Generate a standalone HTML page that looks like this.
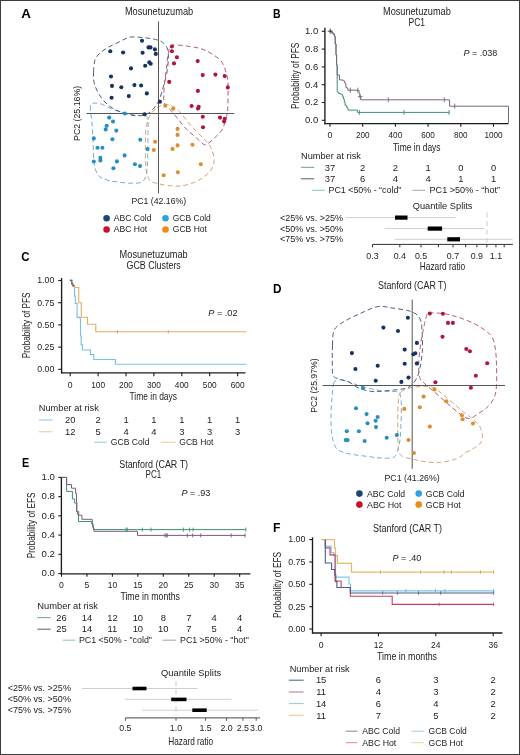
<!DOCTYPE html>
<html><head><meta charset="utf-8"><style>
html,body{margin:0;padding:0;background:#fff;}
svg{display:block;will-change:transform;}
text{font-family:"Liberation Sans", sans-serif;}
</style></head><body>
<svg width="520" height="755" viewBox="0 0 520 755" font-family='"Liberation Sans", sans-serif'>
<rect x="0.5" y="0.5" width="519" height="754" fill="#fff" stroke="#3c3c3c" stroke-width="1"/>
<text x="21.30" y="18.07" font-size="13" fill="#000" font-weight="bold" textLength="9.70" lengthAdjust="spacingAndGlyphs">A</text>
<text x="124.90" y="14.74" font-size="10" fill="#222" textLength="68.30" lengthAdjust="spacingAndGlyphs">Mosunetuzumab</text>
<path d="M90.50,110.00C90.27,106.58 90.05,105.67 90.80,104.50C91.55,103.33 93.30,103.08 95.00,103.00C96.70,102.92 98.83,103.30 101.00,104.00C103.17,104.70 105.50,106.12 108.00,107.20C110.50,108.28 113.00,109.45 116.00,110.50C119.00,111.55 122.33,112.72 126.00,113.50C129.67,114.28 134.83,114.78 138.00,115.20C141.17,115.62 143.33,115.37 145.00,116.00C146.67,116.63 147.50,116.67 148.00,119.00C148.50,121.33 148.03,124.83 148.00,130.00C147.97,135.17 147.93,143.67 147.80,150.00C147.67,156.33 147.58,163.50 147.20,168.00C146.82,172.50 146.45,174.62 145.50,177.00C144.55,179.38 143.92,181.27 141.50,182.30C139.08,183.33 134.92,183.25 131.00,183.20C127.08,183.15 121.83,182.48 118.00,182.00C114.17,181.52 111.00,181.13 108.00,180.30C105.00,179.47 102.00,178.55 100.00,177.00C98.00,175.45 97.00,173.50 96.00,171.00C95.00,168.50 94.47,166.33 94.00,162.00C93.53,157.67 93.50,151.17 93.20,145.00C92.90,138.83 92.65,130.83 92.20,125.00C91.75,119.17 90.73,113.42 90.50,110.00Z" stroke="#78aad0" stroke-width="1" fill="none" stroke-dasharray="4.8 3.0" stroke-linecap="butt"/>
<path d="M157.00,108.00C158.92,106.63 161.50,104.80 163.50,104.30C165.50,103.80 166.83,104.30 169.00,105.00C171.17,105.70 174.00,106.50 176.50,108.50C179.00,110.50 181.58,114.08 184.00,117.00C186.42,119.92 188.33,123.00 191.00,126.00C193.67,129.00 197.25,132.20 200.00,135.00C202.75,137.80 205.58,140.47 207.50,142.80C209.42,145.13 210.45,146.63 211.50,149.00C212.55,151.37 213.47,154.33 213.80,157.00C214.13,159.67 214.13,162.58 213.50,165.00C212.87,167.42 211.75,169.42 210.00,171.50C208.25,173.58 205.57,175.70 203.00,177.50C200.43,179.30 198.27,180.88 194.60,182.30C190.93,183.72 185.43,185.47 181.00,186.00C176.57,186.53 171.83,185.90 168.00,185.50C164.17,185.10 161.00,184.43 158.00,183.60C155.00,182.77 151.92,182.43 150.00,180.50C148.08,178.57 147.23,175.42 146.50,172.00C145.77,168.58 145.78,165.17 145.60,160.00C145.42,154.83 145.33,146.33 145.40,141.00C145.47,135.67 145.48,131.75 146.00,128.00C146.52,124.25 147.50,121.08 148.50,118.50C149.50,115.92 150.58,114.25 152.00,112.50C153.42,110.75 155.08,109.37 157.00,108.00Z" stroke="#d4a470" stroke-width="1" fill="none" stroke-dasharray="4.8 3.0" stroke-linecap="butt"/>
<path d="M93.60,72.00C93.77,68.33 93.93,63.17 95.00,60.00C96.07,56.83 97.83,55.08 100.00,53.00C102.17,50.92 105.00,49.25 108.00,47.50C111.00,45.75 114.33,44.22 118.00,42.50C121.67,40.78 125.50,37.98 130.00,37.20C134.50,36.42 140.42,37.33 145.00,37.80C149.58,38.27 154.33,39.05 157.50,40.00C160.67,40.95 162.28,41.83 164.00,43.50C165.72,45.17 167.08,47.25 167.80,50.00C168.52,52.75 168.47,56.17 168.30,60.00C168.13,63.83 167.60,68.67 166.80,73.00C166.00,77.33 164.72,81.67 163.50,86.00C162.28,90.33 161.08,95.33 159.50,99.00C157.92,102.67 156.08,105.50 154.00,108.00C151.92,110.50 150.00,112.70 147.00,114.00C144.00,115.30 139.83,115.97 136.00,115.80C132.17,115.63 127.83,114.22 124.00,113.00C120.17,111.78 116.33,110.50 113.00,108.50C109.67,106.50 106.58,103.83 104.00,101.00C101.42,98.17 99.17,94.67 97.50,91.50C95.83,88.33 94.65,85.25 94.00,82.00C93.35,78.75 93.43,75.67 93.60,72.00Z" stroke="#4c6080" stroke-width="1" fill="none" stroke-dasharray="4.8 3.0" stroke-linecap="butt"/>
<path d="M170.50,46.20C171.83,44.53 172.75,44.95 176.00,45.00C179.25,45.05 185.67,45.83 190.00,46.50C194.33,47.17 198.33,47.75 202.00,49.00C205.67,50.25 208.83,52.00 212.00,54.00C215.17,56.00 218.67,58.00 221.00,61.00C223.33,64.00 224.85,68.50 226.00,72.00C227.15,75.50 227.57,77.67 227.90,82.00C228.23,86.33 228.05,93.17 228.00,98.00C227.95,102.83 227.97,107.50 227.60,111.00C227.23,114.50 226.65,116.00 225.80,119.00C224.95,122.00 224.13,126.08 222.50,129.00C220.87,131.92 218.42,134.08 216.00,136.50C213.58,138.92 210.00,142.17 208.00,143.50C206.00,144.83 206.00,145.50 204.00,144.50C202.00,143.50 199.00,140.12 196.00,137.50C193.00,134.88 189.00,131.88 186.00,128.80C183.00,125.72 180.53,122.07 178.00,119.00C175.47,115.93 173.05,112.90 170.80,110.40C168.55,107.90 165.67,106.57 164.50,104.00C163.33,101.43 163.77,98.67 163.80,95.00C163.83,91.33 164.25,86.50 164.70,82.00C165.15,77.50 165.95,72.50 166.50,68.00C167.05,63.50 167.33,58.63 168.00,55.00C168.67,51.37 169.17,47.87 170.50,46.20Z" stroke="#b85c78" stroke-width="1" fill="none" stroke-dasharray="4.8 3.0" stroke-linecap="butt"/>
<line x1="158.50" y1="21.50" x2="158.50" y2="193.20" stroke="#555" stroke-width="1"/>
<line x1="86.50" y1="113.50" x2="234.20" y2="113.50" stroke="#555" stroke-width="1"/>
<circle cx="142.00" cy="40.80" r="2.05" fill="#16325e"/>
<circle cx="110.30" cy="51.20" r="2.05" fill="#16325e"/>
<circle cx="123.10" cy="52.50" r="2.05" fill="#16325e"/>
<circle cx="142.60" cy="52.80" r="2.05" fill="#16325e"/>
<circle cx="148.50" cy="47.40" r="2.05" fill="#16325e"/>
<circle cx="150.50" cy="47.40" r="2.05" fill="#16325e"/>
<circle cx="154.90" cy="49.40" r="2.05" fill="#16325e"/>
<circle cx="155.80" cy="53.90" r="2.05" fill="#16325e"/>
<circle cx="149.30" cy="62.40" r="2.05" fill="#16325e"/>
<circle cx="150.70" cy="63.70" r="2.05" fill="#16325e"/>
<circle cx="145.20" cy="65.80" r="2.05" fill="#16325e"/>
<circle cx="131.00" cy="68.40" r="2.05" fill="#16325e"/>
<circle cx="111.00" cy="76.50" r="2.05" fill="#16325e"/>
<circle cx="112.00" cy="85.90" r="2.05" fill="#16325e"/>
<circle cx="121.30" cy="87.20" r="2.05" fill="#16325e"/>
<circle cx="134.40" cy="85.10" r="2.05" fill="#16325e"/>
<circle cx="141.10" cy="85.50" r="2.05" fill="#16325e"/>
<circle cx="146.80" cy="93.40" r="2.05" fill="#16325e"/>
<circle cx="111.60" cy="97.80" r="2.05" fill="#16325e"/>
<circle cx="128.80" cy="96.10" r="2.05" fill="#16325e"/>
<circle cx="160.00" cy="101.80" r="2.05" fill="#16325e"/>
<circle cx="144.60" cy="114.20" r="2.05" fill="#16325e"/>
<circle cx="171.90" cy="46.50" r="2.05" fill="#b0153a"/>
<circle cx="171.90" cy="51.30" r="2.05" fill="#b0153a"/>
<circle cx="176.90" cy="57.30" r="2.05" fill="#b0153a"/>
<circle cx="174.00" cy="63.40" r="2.05" fill="#b0153a"/>
<circle cx="197.70" cy="61.10" r="2.05" fill="#b0153a"/>
<circle cx="202.70" cy="75.10" r="2.05" fill="#b0153a"/>
<circle cx="215.40" cy="74.60" r="2.05" fill="#b0153a"/>
<circle cx="224.70" cy="76.10" r="2.05" fill="#b0153a"/>
<circle cx="227.80" cy="87.40" r="2.05" fill="#b0153a"/>
<circle cx="169.20" cy="81.90" r="2.05" fill="#b0153a"/>
<circle cx="197.90" cy="90.90" r="2.05" fill="#b0153a"/>
<circle cx="191.60" cy="106.00" r="2.05" fill="#b0153a"/>
<circle cx="198.70" cy="106.80" r="2.05" fill="#b0153a"/>
<circle cx="198.00" cy="108.50" r="2.05" fill="#b0153a"/>
<circle cx="202.80" cy="116.80" r="2.05" fill="#b0153a"/>
<circle cx="220.00" cy="117.60" r="2.05" fill="#b0153a"/>
<circle cx="224.70" cy="118.90" r="2.05" fill="#b0153a"/>
<circle cx="224.10" cy="121.50" r="2.05" fill="#b0153a"/>
<circle cx="203.00" cy="127.30" r="2.05" fill="#b0153a"/>
<circle cx="124.80" cy="113.50" r="2.05" fill="#268fbf"/>
<circle cx="109.20" cy="117.60" r="2.05" fill="#268fbf"/>
<circle cx="113.00" cy="121.50" r="2.05" fill="#268fbf"/>
<circle cx="106.70" cy="125.70" r="2.05" fill="#268fbf"/>
<circle cx="105.70" cy="129.40" r="2.05" fill="#268fbf"/>
<circle cx="116.30" cy="130.60" r="2.05" fill="#268fbf"/>
<circle cx="93.80" cy="138.40" r="2.05" fill="#268fbf"/>
<circle cx="112.40" cy="139.20" r="2.05" fill="#268fbf"/>
<circle cx="140.30" cy="139.70" r="2.05" fill="#268fbf"/>
<circle cx="97.50" cy="147.70" r="2.05" fill="#268fbf"/>
<circle cx="102.40" cy="147.70" r="2.05" fill="#268fbf"/>
<circle cx="147.60" cy="149.10" r="2.05" fill="#268fbf"/>
<circle cx="124.60" cy="155.40" r="2.05" fill="#268fbf"/>
<circle cx="100.40" cy="157.90" r="2.05" fill="#268fbf"/>
<circle cx="100.40" cy="160.40" r="2.05" fill="#268fbf"/>
<circle cx="93.80" cy="161.50" r="2.05" fill="#268fbf"/>
<circle cx="116.90" cy="161.40" r="2.05" fill="#268fbf"/>
<circle cx="134.90" cy="164.30" r="2.05" fill="#268fbf"/>
<circle cx="140.00" cy="166.10" r="2.05" fill="#268fbf"/>
<circle cx="113.40" cy="168.30" r="2.05" fill="#268fbf"/>
<circle cx="165.30" cy="105.70" r="2.05" fill="#dc8e2c"/>
<circle cx="173.10" cy="108.80" r="2.05" fill="#dc8e2c"/>
<circle cx="177.60" cy="128.90" r="2.05" fill="#dc8e2c"/>
<circle cx="177.60" cy="134.90" r="2.05" fill="#dc8e2c"/>
<circle cx="155.10" cy="141.70" r="2.05" fill="#dc8e2c"/>
<circle cx="153.80" cy="150.00" r="2.05" fill="#dc8e2c"/>
<circle cx="177.60" cy="145.40" r="2.05" fill="#dc8e2c"/>
<circle cx="172.50" cy="148.90" r="2.05" fill="#dc8e2c"/>
<circle cx="192.50" cy="144.80" r="2.05" fill="#dc8e2c"/>
<circle cx="200.80" cy="164.30" r="2.05" fill="#dc8e2c"/>
<circle cx="177.90" cy="172.20" r="2.05" fill="#dc8e2c"/>
<circle cx="163.70" cy="175.30" r="2.05" fill="#dc8e2c"/>
<text transform="translate(80.00 113.40) rotate(-90)" x="0" y="0" font-size="9.0" fill="#222" text-anchor="middle" textLength="55.00" lengthAdjust="spacingAndGlyphs">PC2 (25.16%)</text>
<text x="131.50" y="204.30" font-size="9.0" fill="#222" textLength="54.70" lengthAdjust="spacingAndGlyphs">PC1 (42.16%)</text>
<circle cx="106.60" cy="218.20" r="3.3" fill="#1b4678"/>
<circle cx="106.60" cy="229.50" r="3.3" fill="#c8102e"/>
<circle cx="165.50" cy="218.20" r="3.3" fill="#2ea2e2"/>
<circle cx="165.50" cy="229.50" r="3.3" fill="#f08a12"/>
<text x="113.80" y="221.16" font-size="8.6" fill="#222" textLength="37.70" lengthAdjust="spacingAndGlyphs">ABC Cold</text>
<text x="113.80" y="232.46" font-size="8.6" fill="#222" textLength="33.40" lengthAdjust="spacingAndGlyphs">ABC Hot</text>
<text x="172.80" y="221.16" font-size="8.6" fill="#222" textLength="38.00" lengthAdjust="spacingAndGlyphs">GCB Cold</text>
<text x="172.80" y="232.46" font-size="8.6" fill="#222" textLength="34.20" lengthAdjust="spacingAndGlyphs">GCB Hot</text>
<text x="273.00" y="18.27" font-size="13" fill="#000" font-weight="bold" textLength="7.60" lengthAdjust="spacingAndGlyphs">B</text>
<text x="383.00" y="14.94" font-size="10" fill="#222" textLength="67.80" lengthAdjust="spacingAndGlyphs">Mosunetuzumab</text>
<text x="408.50" y="25.84" font-size="10" fill="#222" textLength="16.60" lengthAdjust="spacingAndGlyphs">PC1</text>
<line x1="324.90" y1="27.80" x2="324.90" y2="124.20" stroke="#1c1c1c" stroke-width="1.35"/>
<line x1="321.80" y1="120.30" x2="324.90" y2="120.30" stroke="#1c1c1c" stroke-width="1.1"/>
<text x="305.00" y="123.19" font-size="8.4" fill="#222" textLength="13.20" lengthAdjust="spacingAndGlyphs">0.0</text>
<line x1="321.80" y1="102.50" x2="324.90" y2="102.50" stroke="#1c1c1c" stroke-width="1.1"/>
<text x="305.00" y="105.39" font-size="8.4" fill="#222" textLength="13.20" lengthAdjust="spacingAndGlyphs">0.2</text>
<line x1="321.80" y1="84.70" x2="324.90" y2="84.70" stroke="#1c1c1c" stroke-width="1.1"/>
<text x="305.00" y="87.59" font-size="8.4" fill="#222" textLength="13.20" lengthAdjust="spacingAndGlyphs">0.4</text>
<line x1="321.80" y1="66.90" x2="324.90" y2="66.90" stroke="#1c1c1c" stroke-width="1.1"/>
<text x="305.00" y="69.79" font-size="8.4" fill="#222" textLength="13.20" lengthAdjust="spacingAndGlyphs">0.6</text>
<line x1="321.80" y1="49.10" x2="324.90" y2="49.10" stroke="#1c1c1c" stroke-width="1.1"/>
<text x="305.00" y="51.99" font-size="8.4" fill="#222" textLength="13.20" lengthAdjust="spacingAndGlyphs">0.8</text>
<line x1="321.80" y1="31.30" x2="324.90" y2="31.30" stroke="#1c1c1c" stroke-width="1.1"/>
<text x="305.00" y="34.19" font-size="8.4" fill="#222" textLength="13.20" lengthAdjust="spacingAndGlyphs">1.0</text>
<line x1="324.30" y1="123.60" x2="508.50" y2="123.60" stroke="#1c1c1c" stroke-width="1.35"/>
<line x1="330.00" y1="123.60" x2="330.00" y2="126.80" stroke="#1c1c1c" stroke-width="1.1"/>
<text x="330.00" y="137.90" font-size="9.0" fill="#222" text-anchor="middle" textLength="4.80" lengthAdjust="spacingAndGlyphs">0</text>
<line x1="362.70" y1="123.60" x2="362.70" y2="126.80" stroke="#1c1c1c" stroke-width="1.1"/>
<text x="362.70" y="137.90" font-size="9.0" fill="#222" text-anchor="middle" textLength="13.60" lengthAdjust="spacingAndGlyphs">200</text>
<line x1="395.40" y1="123.60" x2="395.40" y2="126.80" stroke="#1c1c1c" stroke-width="1.1"/>
<text x="395.40" y="137.90" font-size="9.0" fill="#222" text-anchor="middle" textLength="13.60" lengthAdjust="spacingAndGlyphs">400</text>
<line x1="428.10" y1="123.60" x2="428.10" y2="126.80" stroke="#1c1c1c" stroke-width="1.1"/>
<text x="428.10" y="137.90" font-size="9.0" fill="#222" text-anchor="middle" textLength="13.60" lengthAdjust="spacingAndGlyphs">600</text>
<line x1="460.80" y1="123.60" x2="460.80" y2="126.80" stroke="#1c1c1c" stroke-width="1.1"/>
<text x="460.80" y="137.90" font-size="9.0" fill="#222" text-anchor="middle" textLength="13.60" lengthAdjust="spacingAndGlyphs">800</text>
<line x1="493.50" y1="123.60" x2="493.50" y2="126.80" stroke="#1c1c1c" stroke-width="1.1"/>
<text x="493.50" y="137.90" font-size="9.0" fill="#222" text-anchor="middle" textLength="18.20" lengthAdjust="spacingAndGlyphs">1000</text>
<text x="392.90" y="150.72" font-size="10.8" fill="#222" textLength="47.70" lengthAdjust="spacingAndGlyphs">Time in days</text>
<text transform="translate(298.92 75.80) rotate(-90)" x="0" y="0" font-size="10.8" fill="#222" text-anchor="middle" textLength="66.30" lengthAdjust="spacingAndGlyphs">Probability of PFS</text>
<text x="463.40" y="55.90" font-size="9.0" fill="#222" textLength="33.80" lengthAdjust="spacingAndGlyphs"><tspan font-style="italic">P</tspan> = .038</text>
<path d="M330,31.2H331.5V32.5H333V34.2H334.6V36.5H335.2V44H336V55H336.6V65H337.2V75.1V91.8H338.3V93.4H340.3V94.2H341.9V95H342.7V96.6H343.5V99H344.3V102.1H345.1V105.3H346.7V107.7H347.9V110.1H357.4V112.4H449.6" stroke="#3e8f78" stroke-width="1" fill="none"/>
<path d="M330,31.2H331.5V32.5H333V34.2H334.6V36.5H335.2V44H336V55H336.6V65H337.2V75.1H339.5V79.9H342.3V80.3H343.9V81.1H344.7V83H345.5V83.8H345.9V87.4H347.1V88.2H347.9V90.2H359V93.4H359.8V96.6H360.6V99.8H449.6V106.2H508.5V123" stroke="#786680" stroke-width="1" fill="none"/>
<path d="M330.20,28.60V33.80" stroke="#333" stroke-width="0.9"/>
<path d="M327.70,31.20H332.70" stroke="#333" stroke-width="0.9"/>
<path d="M350.30,87.70V92.70" stroke="#786680" stroke-width="0.9"/>
<path d="M357.80,87.70V92.70" stroke="#786680" stroke-width="0.9"/>
<path d="M360.20,94.10V99.10" stroke="#786680" stroke-width="0.9"/>
<path d="M357.90,96.60H362.50" stroke="#786680" stroke-width="0.9"/>
<path d="M388.30,97.30V102.30" stroke="#786680" stroke-width="0.9"/>
<path d="M444.30,97.30V102.30" stroke="#786680" stroke-width="0.9"/>
<path d="M454.70,103.70V108.70" stroke="#786680" stroke-width="0.9"/>
<path d="M359.40,109.90V114.90" stroke="#3e8f78" stroke-width="0.9"/>
<path d="M404.00,109.90V114.90" stroke="#3e8f78" stroke-width="0.9"/>
<path d="M449.00,109.90V114.90" stroke="#3e8f78" stroke-width="0.9"/>
<text x="301.00" y="158.63" font-size="8.8" fill="#222" textLength="59.90" lengthAdjust="spacingAndGlyphs">Number at risk</text>
<line x1="301.00" y1="167.30" x2="314.30" y2="167.30" stroke="#6e9e94" stroke-width="1"/>
<line x1="301.00" y1="178.80" x2="314.30" y2="178.80" stroke="#5a5a5a" stroke-width="1"/>
<text x="330.00" y="170.53" font-size="9.4" fill="#222" text-anchor="middle">37</text>
<text x="330.00" y="182.03" font-size="9.4" fill="#222" text-anchor="middle">37</text>
<text x="362.70" y="170.53" font-size="9.4" fill="#222" text-anchor="middle">2</text>
<text x="362.70" y="182.03" font-size="9.4" fill="#222" text-anchor="middle">6</text>
<text x="395.40" y="170.53" font-size="9.4" fill="#222" text-anchor="middle">2</text>
<text x="395.40" y="182.03" font-size="9.4" fill="#222" text-anchor="middle">4</text>
<text x="428.10" y="170.53" font-size="9.4" fill="#222" text-anchor="middle">1</text>
<text x="428.10" y="182.03" font-size="9.4" fill="#222" text-anchor="middle">4</text>
<text x="460.80" y="170.53" font-size="9.4" fill="#222" text-anchor="middle">0</text>
<text x="460.80" y="182.03" font-size="9.4" fill="#222" text-anchor="middle">1</text>
<text x="493.50" y="170.53" font-size="9.4" fill="#222" text-anchor="middle">0</text>
<text x="493.50" y="182.03" font-size="9.4" fill="#222" text-anchor="middle">1</text>
<line x1="311.80" y1="190.30" x2="324.90" y2="190.30" stroke="#90c8be" stroke-width="1.1"/>
<text x="328.50" y="193.33" font-size="8.8" fill="#222" textLength="72.80" lengthAdjust="spacingAndGlyphs">PC1 &lt;50% - “cold”</text>
<line x1="412.50" y1="190.30" x2="425.00" y2="190.30" stroke="#b8a0c0" stroke-width="1.1"/>
<text x="429.50" y="193.33" font-size="8.8" fill="#222" textLength="70.50" lengthAdjust="spacingAndGlyphs">PC1 &gt;50% - “hot”</text>
<text x="412.70" y="209.30" font-size="9.0" fill="#222" textLength="59.80" lengthAdjust="spacingAndGlyphs">Quantile Splits</text>
<text x="280.00" y="220.73" font-size="8.8" fill="#222" textLength="63.00" lengthAdjust="spacingAndGlyphs">&lt;25% vs. &gt;25%</text>
<text x="280.00" y="231.53" font-size="8.8" fill="#222" textLength="63.00" lengthAdjust="spacingAndGlyphs">&lt;50% vs. &gt;50%</text>
<text x="280.00" y="242.33" font-size="8.8" fill="#222" textLength="63.00" lengthAdjust="spacingAndGlyphs">&lt;75% vs. &gt;75%</text>
<line x1="487.00" y1="212.50" x2="487.00" y2="242.50" stroke="#c4c4c4" stroke-width="0.9" stroke-dasharray="5 3.5"/>
<line x1="345.20" y1="217.60" x2="455.60" y2="217.60" stroke="#c8c8c8" stroke-width="0.9"/>
<rect x="395.00" y="215.50" width="12.50" height="4.2" fill="#000"/>
<line x1="384.60" y1="228.60" x2="484.40" y2="228.60" stroke="#c8c8c8" stroke-width="0.9"/>
<rect x="427.70" y="226.50" width="14.40" height="4.2" fill="#000"/>
<line x1="394.60" y1="239.30" x2="512.60" y2="239.30" stroke="#c8c8c8" stroke-width="0.9"/>
<rect x="447.30" y="237.20" width="12.70" height="4.2" fill="#000"/>
<line x1="372.50" y1="244.40" x2="512.90" y2="244.40" stroke="#333" stroke-width="1"/>
<line x1="372.50" y1="244.40" x2="372.50" y2="247.30" stroke="#333" stroke-width="1"/>
<line x1="399.83" y1="244.40" x2="399.83" y2="247.30" stroke="#333" stroke-width="1"/>
<line x1="421.03" y1="244.40" x2="421.03" y2="247.30" stroke="#333" stroke-width="1"/>
<line x1="438.35" y1="244.40" x2="438.35" y2="247.30" stroke="#333" stroke-width="1"/>
<line x1="452.99" y1="244.40" x2="452.99" y2="247.30" stroke="#333" stroke-width="1"/>
<line x1="465.68" y1="244.40" x2="465.68" y2="247.30" stroke="#333" stroke-width="1"/>
<line x1="476.87" y1="244.40" x2="476.87" y2="247.30" stroke="#333" stroke-width="1"/>
<line x1="486.88" y1="244.40" x2="486.88" y2="247.30" stroke="#333" stroke-width="1"/>
<line x1="495.93" y1="244.40" x2="495.93" y2="247.30" stroke="#333" stroke-width="1"/>
<line x1="504.20" y1="244.40" x2="504.20" y2="247.30" stroke="#333" stroke-width="1"/>
<text x="372.50" y="258.86" font-size="9.2" fill="#222" text-anchor="middle" textLength="12.30" lengthAdjust="spacingAndGlyphs">0.3</text>
<text x="399.83" y="258.86" font-size="9.2" fill="#222" text-anchor="middle" textLength="12.30" lengthAdjust="spacingAndGlyphs">0.4</text>
<text x="421.03" y="258.86" font-size="9.2" fill="#222" text-anchor="middle" textLength="12.30" lengthAdjust="spacingAndGlyphs">0.5</text>
<text x="452.99" y="258.86" font-size="9.2" fill="#222" text-anchor="middle" textLength="12.30" lengthAdjust="spacingAndGlyphs">0.7</text>
<text x="476.87" y="258.86" font-size="9.2" fill="#222" text-anchor="middle" textLength="12.30" lengthAdjust="spacingAndGlyphs">0.9</text>
<text x="495.93" y="258.86" font-size="9.2" fill="#222" text-anchor="middle" textLength="12.30" lengthAdjust="spacingAndGlyphs">1.1</text>
<text x="419.80" y="270.12" font-size="10.8" fill="#222" textLength="45.40" lengthAdjust="spacingAndGlyphs">Hazard ratio</text>
<text x="21.30" y="260.97" font-size="13" fill="#000" font-weight="bold" textLength="8.30" lengthAdjust="spacingAndGlyphs">C</text>
<text x="119.60" y="257.64" font-size="10" fill="#222" textLength="68.10" lengthAdjust="spacingAndGlyphs">Mosunetuzumab</text>
<text x="126.50" y="268.74" font-size="10" fill="#222" textLength="54.30" lengthAdjust="spacingAndGlyphs">GCB Clusters</text>
<line x1="61.60" y1="278.00" x2="61.60" y2="373.40" stroke="#1c1c1c" stroke-width="1.35"/>
<line x1="58.20" y1="369.30" x2="61.60" y2="369.30" stroke="#1c1c1c" stroke-width="1.1"/>
<text x="37.20" y="372.19" font-size="8.4" fill="#222" textLength="17.10" lengthAdjust="spacingAndGlyphs">0.00</text>
<line x1="58.20" y1="347.10" x2="61.60" y2="347.10" stroke="#1c1c1c" stroke-width="1.1"/>
<text x="37.20" y="349.99" font-size="8.4" fill="#222" textLength="17.10" lengthAdjust="spacingAndGlyphs">0.25</text>
<line x1="58.20" y1="324.90" x2="61.60" y2="324.90" stroke="#1c1c1c" stroke-width="1.1"/>
<text x="37.20" y="327.79" font-size="8.4" fill="#222" textLength="17.10" lengthAdjust="spacingAndGlyphs">0.50</text>
<line x1="58.20" y1="302.70" x2="61.60" y2="302.70" stroke="#1c1c1c" stroke-width="1.1"/>
<text x="37.20" y="305.59" font-size="8.4" fill="#222" textLength="17.10" lengthAdjust="spacingAndGlyphs">0.75</text>
<line x1="58.20" y1="280.50" x2="61.60" y2="280.50" stroke="#1c1c1c" stroke-width="1.1"/>
<text x="37.20" y="283.39" font-size="8.4" fill="#222" textLength="17.10" lengthAdjust="spacingAndGlyphs">1.00</text>
<line x1="61.00" y1="372.80" x2="245.50" y2="372.80" stroke="#1c1c1c" stroke-width="1.35"/>
<line x1="70.20" y1="372.80" x2="70.20" y2="376.20" stroke="#1c1c1c" stroke-width="1.1"/>
<text x="70.20" y="387.70" font-size="9.0" fill="#222" text-anchor="middle" textLength="4.80" lengthAdjust="spacingAndGlyphs">0</text>
<line x1="98.10" y1="372.80" x2="98.10" y2="376.20" stroke="#1c1c1c" stroke-width="1.1"/>
<text x="98.10" y="387.70" font-size="9.0" fill="#222" text-anchor="middle" textLength="13.90" lengthAdjust="spacingAndGlyphs">100</text>
<line x1="126.00" y1="372.80" x2="126.00" y2="376.20" stroke="#1c1c1c" stroke-width="1.1"/>
<text x="126.00" y="387.70" font-size="9.0" fill="#222" text-anchor="middle" textLength="13.90" lengthAdjust="spacingAndGlyphs">200</text>
<line x1="153.90" y1="372.80" x2="153.90" y2="376.20" stroke="#1c1c1c" stroke-width="1.1"/>
<text x="153.90" y="387.70" font-size="9.0" fill="#222" text-anchor="middle" textLength="13.90" lengthAdjust="spacingAndGlyphs">300</text>
<line x1="181.80" y1="372.80" x2="181.80" y2="376.20" stroke="#1c1c1c" stroke-width="1.1"/>
<text x="181.80" y="387.70" font-size="9.0" fill="#222" text-anchor="middle" textLength="13.90" lengthAdjust="spacingAndGlyphs">400</text>
<line x1="209.70" y1="372.80" x2="209.70" y2="376.20" stroke="#1c1c1c" stroke-width="1.1"/>
<text x="209.70" y="387.70" font-size="9.0" fill="#222" text-anchor="middle" textLength="13.90" lengthAdjust="spacingAndGlyphs">500</text>
<line x1="237.60" y1="372.80" x2="237.60" y2="376.20" stroke="#1c1c1c" stroke-width="1.1"/>
<text x="237.60" y="387.70" font-size="9.0" fill="#222" text-anchor="middle" textLength="13.90" lengthAdjust="spacingAndGlyphs">600</text>
<text x="129.50" y="399.92" font-size="10.8" fill="#222" textLength="47.50" lengthAdjust="spacingAndGlyphs">Time in days</text>
<text transform="translate(30.42 325.30) rotate(-90)" x="0" y="0" font-size="10.8" fill="#222" text-anchor="middle" textLength="65.70" lengthAdjust="spacingAndGlyphs">Probability of PFS</text>
<text x="208.30" y="316.40" font-size="9.0" fill="#222" textLength="29.20" lengthAdjust="spacingAndGlyphs"><tspan font-style="italic">P</tspan> = .02</text>
<path d="M69.8,280.4H71.8V284H72.9V285.9H74.5V295.9H75.3V303.4H77.1V317.4H79.7V318H80.5V336H81.2V344.6H82.4V350H90.4V354.6H93.8V359.5H115.4V364.3H246.3" stroke="#78bee6" stroke-width="1.1" fill="none"/>
<path d="M69.8,280.4H71.8V284H72.9V285.9H74.5V287.5H78.7V302.8H81.3V317.3H87.5V324.3H95.8V331.8H246.3" stroke="#e8ac62" stroke-width="1.1" fill="none"/>
<path d="M69.8,280.4H71.8V284H72.9V285.9H74.5" stroke="#666" stroke-width="1.1" fill="none"/>
<path d="M117.40,330.20V333.40" stroke="#c89040" stroke-width="0.8"/>
<path d="M168.30,330.20V333.40" stroke="#c89040" stroke-width="0.8"/>
<text x="38.80" y="411.33" font-size="8.8" fill="#222" textLength="60.00" lengthAdjust="spacingAndGlyphs">Number at risk</text>
<line x1="38.80" y1="420.00" x2="52.50" y2="420.00" stroke="#8cc4e2" stroke-width="1"/>
<line x1="38.80" y1="431.80" x2="52.50" y2="431.80" stroke="#f0c49a" stroke-width="1"/>
<text x="70.20" y="423.03" font-size="9.4" fill="#222" text-anchor="middle">20</text>
<text x="70.20" y="434.93" font-size="9.4" fill="#222" text-anchor="middle">12</text>
<text x="98.10" y="423.03" font-size="9.4" fill="#222" text-anchor="middle">2</text>
<text x="98.10" y="434.93" font-size="9.4" fill="#222" text-anchor="middle">5</text>
<text x="126.00" y="423.03" font-size="9.4" fill="#222" text-anchor="middle">1</text>
<text x="126.00" y="434.93" font-size="9.4" fill="#222" text-anchor="middle">4</text>
<text x="153.90" y="423.03" font-size="9.4" fill="#222" text-anchor="middle">1</text>
<text x="153.90" y="434.93" font-size="9.4" fill="#222" text-anchor="middle">4</text>
<text x="181.80" y="423.03" font-size="9.4" fill="#222" text-anchor="middle">1</text>
<text x="181.80" y="434.93" font-size="9.4" fill="#222" text-anchor="middle">3</text>
<text x="209.70" y="423.03" font-size="9.4" fill="#222" text-anchor="middle">1</text>
<text x="209.70" y="434.93" font-size="9.4" fill="#222" text-anchor="middle">3</text>
<text x="237.60" y="423.03" font-size="9.4" fill="#222" text-anchor="middle">1</text>
<text x="237.60" y="434.93" font-size="9.4" fill="#222" text-anchor="middle">3</text>
<line x1="94.50" y1="442.20" x2="107.00" y2="442.20" stroke="#8cc4e2" stroke-width="1"/>
<text x="110.80" y="445.23" font-size="8.8" fill="#222" textLength="38.70" lengthAdjust="spacingAndGlyphs">GCB Cold</text>
<line x1="160.80" y1="442.20" x2="175.80" y2="442.20" stroke="#f0c49a" stroke-width="1"/>
<text x="179.30" y="445.23" font-size="8.8" fill="#222" textLength="34.10" lengthAdjust="spacingAndGlyphs">GCB Hot</text>
<text x="273.00" y="292.67" font-size="13" fill="#000" font-weight="bold" textLength="8.50" lengthAdjust="spacingAndGlyphs">D</text>
<text x="378.00" y="289.44" font-size="10" fill="#222" textLength="68.50" lengthAdjust="spacingAndGlyphs">Stanford (CAR T)</text>
<path d="M333.50,384.00C334.17,381.08 334.42,381.17 336.00,380.50C337.58,379.83 340.33,379.58 343.00,380.00C345.67,380.42 348.33,381.75 352.00,383.00C355.67,384.25 359.37,386.12 365.00,387.50C370.63,388.88 380.63,390.63 385.80,391.30C390.97,391.97 393.63,391.05 396.00,391.50C398.37,391.95 399.12,391.75 400.00,394.00C400.88,396.25 401.13,400.00 401.30,405.00C401.47,410.00 401.22,418.17 401.00,424.00C400.78,429.83 400.67,435.33 400.00,440.00C399.33,444.67 398.17,449.08 397.00,452.00C395.83,454.92 395.83,456.50 393.00,457.50C390.17,458.50 384.17,458.17 380.00,458.00C375.83,457.83 373.00,457.17 368.00,456.50C363.00,455.83 354.67,454.92 350.00,454.00C345.33,453.08 342.50,452.33 340.00,451.00C337.50,449.67 336.37,448.83 335.00,446.00C333.63,443.17 332.47,439.17 331.80,434.00C331.13,428.83 330.97,421.00 331.00,415.00C331.03,409.00 331.58,403.17 332.00,398.00C332.42,392.83 332.83,386.92 333.50,384.00Z" stroke="#78aad0" stroke-width="1" fill="none" stroke-dasharray="4.8 3.0" stroke-linecap="butt"/>
<path d="M401.00,392.00C402.53,390.58 404.83,389.42 408.00,388.50C411.17,387.58 415.75,386.63 420.00,386.50C424.25,386.37 429.00,385.78 433.50,387.70C438.00,389.62 442.20,394.12 447.00,398.00C451.80,401.88 458.13,407.58 462.30,411.00C466.47,414.42 469.12,415.97 472.00,418.50C474.88,421.03 477.85,423.32 479.60,426.20C481.35,429.08 482.35,433.00 482.50,435.80C482.65,438.60 481.62,441.13 480.50,443.00C479.38,444.87 478.22,445.42 475.80,447.00C473.38,448.58 469.22,450.53 466.00,452.50C462.78,454.47 460.97,457.13 456.50,458.80C452.03,460.47 444.62,462.05 439.20,462.50C433.78,462.95 428.17,462.00 424.00,461.50C419.83,461.00 417.87,460.42 414.20,459.50C410.53,458.58 404.62,457.75 402.00,456.00C399.38,454.25 399.20,453.33 398.50,449.00C397.80,444.67 397.90,436.50 397.80,430.00C397.70,423.50 397.73,415.50 397.90,410.00C398.07,404.50 398.28,400.00 398.80,397.00C399.32,394.00 399.47,393.42 401.00,392.00Z" stroke="#d4a470" stroke-width="1" fill="none" stroke-dasharray="4.8 3.0" stroke-linecap="butt"/>
<path d="M332.50,345.00C332.70,340.33 332.75,335.08 333.50,332.00C334.25,328.92 335.08,328.33 337.00,326.50C338.92,324.67 341.13,323.17 345.00,321.00C348.87,318.83 354.75,315.90 360.20,313.50C365.65,311.10 372.40,307.52 377.70,306.60C383.00,305.68 387.00,307.33 392.00,308.00C397.00,308.67 403.70,309.60 407.70,310.60C411.70,311.60 413.87,312.43 416.00,314.00C418.13,315.57 419.50,317.33 420.50,320.00C421.50,322.67 421.70,324.80 422.00,330.00C422.30,335.20 422.72,344.53 422.30,351.20C421.88,357.87 420.72,365.03 419.50,370.00C418.28,374.97 416.97,378.05 415.00,381.00C413.03,383.95 410.53,386.28 407.70,387.70C404.87,389.12 402.03,388.95 398.00,389.50C393.97,390.05 387.83,390.67 383.50,391.00C379.17,391.33 376.17,392.00 372.00,391.50C367.83,391.00 362.30,389.55 358.50,388.00C354.70,386.45 352.45,383.70 349.20,382.20C345.95,380.70 341.70,380.20 339.00,379.00C336.30,377.80 334.12,378.17 333.00,375.00C331.88,371.83 332.38,365.00 332.30,360.00C332.22,355.00 332.30,349.67 332.50,345.00Z" stroke="#4c6080" stroke-width="1" fill="none" stroke-dasharray="4.8 3.0" stroke-linecap="butt"/>
<path d="M429.00,313.30C431.83,312.55 439.17,313.13 443.00,313.50C446.83,313.87 448.83,314.67 452.00,315.50C455.17,316.33 458.17,317.08 462.00,318.50C465.83,319.92 471.00,321.92 475.00,324.00C479.00,326.08 483.08,328.67 486.00,331.00C488.92,333.33 490.92,334.83 492.50,338.00C494.08,341.17 494.83,345.50 495.50,350.00C496.17,354.50 496.33,359.23 496.50,365.00C496.67,370.77 496.83,379.27 496.50,384.60C496.17,389.93 495.92,393.35 494.50,397.00C493.08,400.65 490.42,403.92 488.00,406.50C485.58,409.08 483.17,410.50 480.00,412.50C476.83,414.50 472.53,418.42 469.00,418.50C465.47,418.58 462.47,415.58 458.80,413.00C455.13,410.42 451.25,406.67 447.00,403.00C442.75,399.33 436.97,394.17 433.30,391.00C429.63,387.83 427.28,386.33 425.00,384.00C422.72,381.67 420.65,380.42 419.60,377.00C418.55,373.58 418.53,368.97 418.70,363.50C418.87,358.03 419.80,349.98 420.60,344.20C421.40,338.42 422.60,333.17 423.50,328.80C424.40,324.43 425.08,320.58 426.00,318.00C426.92,315.42 426.17,314.05 429.00,313.30Z" stroke="#b85c78" stroke-width="1" fill="none" stroke-dasharray="4.8 3.0" stroke-linecap="butt"/>
<line x1="412.20" y1="299.60" x2="412.20" y2="468.80" stroke="#555" stroke-width="1"/>
<line x1="322.50" y1="385.50" x2="505.00" y2="385.50" stroke="#555" stroke-width="1"/>
<circle cx="383.40" cy="327.60" r="2.05" fill="#16325e"/>
<circle cx="398.00" cy="331.00" r="2.05" fill="#16325e"/>
<circle cx="407.90" cy="317.80" r="2.05" fill="#16325e"/>
<circle cx="351.90" cy="353.10" r="2.05" fill="#16325e"/>
<circle cx="355.40" cy="369.00" r="2.05" fill="#16325e"/>
<circle cx="377.70" cy="365.70" r="2.05" fill="#16325e"/>
<circle cx="375.70" cy="380.70" r="2.05" fill="#16325e"/>
<circle cx="404.70" cy="349.60" r="2.05" fill="#16325e"/>
<circle cx="404.70" cy="363.80" r="2.05" fill="#16325e"/>
<circle cx="401.40" cy="381.90" r="2.05" fill="#16325e"/>
<circle cx="408.50" cy="377.60" r="2.05" fill="#16325e"/>
<circle cx="416.90" cy="342.90" r="2.05" fill="#16325e"/>
<circle cx="413.40" cy="354.20" r="2.05" fill="#16325e"/>
<circle cx="415.30" cy="353.30" r="2.05" fill="#16325e"/>
<circle cx="416.90" cy="363.40" r="2.05" fill="#16325e"/>
<circle cx="429.80" cy="313.50" r="2.05" fill="#b0153a"/>
<circle cx="442.90" cy="313.70" r="2.05" fill="#b0153a"/>
<circle cx="448.00" cy="322.90" r="2.05" fill="#b0153a"/>
<circle cx="452.90" cy="322.90" r="2.05" fill="#b0153a"/>
<circle cx="442.50" cy="336.80" r="2.05" fill="#b0153a"/>
<circle cx="466.30" cy="349.00" r="2.05" fill="#b0153a"/>
<circle cx="469.90" cy="351.20" r="2.05" fill="#b0153a"/>
<circle cx="487.20" cy="363.30" r="2.05" fill="#b0153a"/>
<circle cx="475.80" cy="375.70" r="2.05" fill="#b0153a"/>
<circle cx="435.40" cy="382.20" r="2.05" fill="#b0153a"/>
<circle cx="470.90" cy="387.80" r="2.05" fill="#b0153a"/>
<circle cx="362.90" cy="388.00" r="2.05" fill="#268fbf"/>
<circle cx="356.00" cy="408.20" r="2.05" fill="#268fbf"/>
<circle cx="366.60" cy="414.10" r="2.05" fill="#268fbf"/>
<circle cx="377.70" cy="417.00" r="2.05" fill="#268fbf"/>
<circle cx="375.60" cy="420.80" r="2.05" fill="#268fbf"/>
<circle cx="367.50" cy="423.20" r="2.05" fill="#268fbf"/>
<circle cx="376.00" cy="427.10" r="2.05" fill="#268fbf"/>
<circle cx="346.80" cy="431.20" r="2.05" fill="#268fbf"/>
<circle cx="358.90" cy="431.20" r="2.05" fill="#268fbf"/>
<circle cx="345.80" cy="440.10" r="2.05" fill="#268fbf"/>
<circle cx="347.60" cy="440.10" r="2.05" fill="#268fbf"/>
<circle cx="364.60" cy="441.00" r="2.05" fill="#268fbf"/>
<circle cx="386.70" cy="437.70" r="2.05" fill="#268fbf"/>
<circle cx="396.80" cy="435.10" r="2.05" fill="#268fbf"/>
<circle cx="434.50" cy="389.40" r="2.05" fill="#dc8e2c"/>
<circle cx="423.60" cy="396.60" r="2.05" fill="#dc8e2c"/>
<circle cx="446.20" cy="401.20" r="2.05" fill="#dc8e2c"/>
<circle cx="419.80" cy="407.30" r="2.05" fill="#dc8e2c"/>
<circle cx="404.30" cy="408.90" r="2.05" fill="#dc8e2c"/>
<circle cx="461.90" cy="415.30" r="2.05" fill="#dc8e2c"/>
<circle cx="462.60" cy="419.30" r="2.05" fill="#dc8e2c"/>
<circle cx="473.00" cy="423.50" r="2.05" fill="#dc8e2c"/>
<circle cx="429.80" cy="426.60" r="2.05" fill="#dc8e2c"/>
<circle cx="408.50" cy="440.00" r="2.05" fill="#dc8e2c"/>
<circle cx="413.90" cy="453.00" r="2.05" fill="#dc8e2c"/>
<text transform="translate(317.40 385.60) rotate(-90)" x="0" y="0" font-size="9.0" fill="#222" text-anchor="middle" textLength="54.30" lengthAdjust="spacingAndGlyphs">PC2 (25.97%)</text>
<text x="384.50" y="480.70" font-size="9.0" fill="#222" textLength="55.20" lengthAdjust="spacingAndGlyphs">PC1 (41.26%)</text>
<circle cx="359.40" cy="493.60" r="3.3" fill="#1b4678"/>
<circle cx="359.40" cy="504.60" r="3.3" fill="#c8102e"/>
<circle cx="418.70" cy="493.60" r="3.3" fill="#2ea2e2"/>
<circle cx="418.70" cy="504.60" r="3.3" fill="#f08a12"/>
<text x="367.00" y="496.56" font-size="8.6" fill="#222" textLength="38.20" lengthAdjust="spacingAndGlyphs">ABC Cold</text>
<text x="367.00" y="507.56" font-size="8.6" fill="#222" textLength="34.50" lengthAdjust="spacingAndGlyphs">ABC Hot</text>
<text x="425.70" y="496.56" font-size="8.6" fill="#222" textLength="38.80" lengthAdjust="spacingAndGlyphs">GCB Cold</text>
<text x="425.70" y="507.56" font-size="8.6" fill="#222" textLength="35.00" lengthAdjust="spacingAndGlyphs">GCB Hot</text>
<text x="22.00" y="466.87" font-size="13" fill="#000" font-weight="bold" textLength="7.20" lengthAdjust="spacingAndGlyphs">E</text>
<text x="119.20" y="467.84" font-size="10" fill="#222" textLength="68.90" lengthAdjust="spacingAndGlyphs">Stanford (CAR T)</text>
<text x="145.60" y="478.14" font-size="10" fill="#222" textLength="15.60" lengthAdjust="spacingAndGlyphs">PC1</text>
<line x1="61.40" y1="476.90" x2="61.40" y2="574.30" stroke="#1c1c1c" stroke-width="1.35"/>
<line x1="58.30" y1="573.60" x2="61.40" y2="573.60" stroke="#1c1c1c" stroke-width="1.1"/>
<text x="41.60" y="576.49" font-size="8.4" fill="#222" textLength="13.40" lengthAdjust="spacingAndGlyphs">0.0</text>
<line x1="58.30" y1="554.35" x2="61.40" y2="554.35" stroke="#1c1c1c" stroke-width="1.1"/>
<text x="41.60" y="557.24" font-size="8.4" fill="#222" textLength="13.40" lengthAdjust="spacingAndGlyphs">0.2</text>
<line x1="58.30" y1="535.10" x2="61.40" y2="535.10" stroke="#1c1c1c" stroke-width="1.1"/>
<text x="41.60" y="537.99" font-size="8.4" fill="#222" textLength="13.40" lengthAdjust="spacingAndGlyphs">0.4</text>
<line x1="58.30" y1="515.85" x2="61.40" y2="515.85" stroke="#1c1c1c" stroke-width="1.1"/>
<text x="41.60" y="518.74" font-size="8.4" fill="#222" textLength="13.40" lengthAdjust="spacingAndGlyphs">0.6</text>
<line x1="58.30" y1="496.60" x2="61.40" y2="496.60" stroke="#1c1c1c" stroke-width="1.1"/>
<text x="41.60" y="499.49" font-size="8.4" fill="#222" textLength="13.40" lengthAdjust="spacingAndGlyphs">0.8</text>
<line x1="58.30" y1="477.35" x2="61.40" y2="477.35" stroke="#1c1c1c" stroke-width="1.1"/>
<text x="41.60" y="480.24" font-size="8.4" fill="#222" textLength="13.40" lengthAdjust="spacingAndGlyphs">1.0</text>
<line x1="60.90" y1="573.80" x2="250.40" y2="573.80" stroke="#1c1c1c" stroke-width="1.35"/>
<line x1="61.50" y1="573.80" x2="61.50" y2="576.80" stroke="#1c1c1c" stroke-width="1.1"/>
<text x="61.50" y="588.10" font-size="9.0" fill="#222" text-anchor="middle" textLength="4.80" lengthAdjust="spacingAndGlyphs">0</text>
<line x1="86.95" y1="573.80" x2="86.95" y2="576.80" stroke="#1c1c1c" stroke-width="1.1"/>
<text x="86.95" y="588.10" font-size="9.0" fill="#222" text-anchor="middle" textLength="4.80" lengthAdjust="spacingAndGlyphs">5</text>
<line x1="112.40" y1="573.80" x2="112.40" y2="576.80" stroke="#1c1c1c" stroke-width="1.1"/>
<text x="112.40" y="588.10" font-size="9.0" fill="#222" text-anchor="middle" textLength="9.40" lengthAdjust="spacingAndGlyphs">10</text>
<line x1="137.85" y1="573.80" x2="137.85" y2="576.80" stroke="#1c1c1c" stroke-width="1.1"/>
<text x="137.85" y="588.10" font-size="9.0" fill="#222" text-anchor="middle" textLength="9.40" lengthAdjust="spacingAndGlyphs">15</text>
<line x1="163.30" y1="573.80" x2="163.30" y2="576.80" stroke="#1c1c1c" stroke-width="1.1"/>
<text x="163.30" y="588.10" font-size="9.0" fill="#222" text-anchor="middle" textLength="9.40" lengthAdjust="spacingAndGlyphs">20</text>
<line x1="188.75" y1="573.80" x2="188.75" y2="576.80" stroke="#1c1c1c" stroke-width="1.1"/>
<text x="188.75" y="588.10" font-size="9.0" fill="#222" text-anchor="middle" textLength="9.40" lengthAdjust="spacingAndGlyphs">25</text>
<line x1="214.20" y1="573.80" x2="214.20" y2="576.80" stroke="#1c1c1c" stroke-width="1.1"/>
<text x="214.20" y="588.10" font-size="9.0" fill="#222" text-anchor="middle" textLength="9.40" lengthAdjust="spacingAndGlyphs">30</text>
<line x1="239.65" y1="573.80" x2="239.65" y2="576.80" stroke="#1c1c1c" stroke-width="1.1"/>
<text x="239.65" y="588.10" font-size="9.0" fill="#222" text-anchor="middle" textLength="9.40" lengthAdjust="spacingAndGlyphs">35</text>
<text x="120.40" y="600.02" font-size="10.8" fill="#222" textLength="59.60" lengthAdjust="spacingAndGlyphs">Time in months</text>
<text transform="translate(35.22 525.30) rotate(-90)" x="0" y="0" font-size="10.8" fill="#222" text-anchor="middle" textLength="65.70" lengthAdjust="spacingAndGlyphs">Probability of EFS</text>
<text x="181.60" y="496.20" font-size="9.0" fill="#222" textLength="28.80" lengthAdjust="spacingAndGlyphs"><tspan font-style="italic">P</tspan> = .93</text>
<path d="M61.4,477.4H66.6V491.4H72.4V499H74.7V503.1H76.5V511.6H77.4V514.3H78.5V521.5H91.8V524.3H92.7V527H93.6V529.6H245.8" stroke="#3e8f74" stroke-width="1" fill="none"/>
<path d="M61.4,477.4H66.6V484.6H71.5V488.2H75.6V493.6H76.5V501.7H76.9V511.6H78.7V515.2H81.9V519.3H92.2V524H93.1V528.3H94V531.3H137.5V535.4H245.5" stroke="#7a5a7c" stroke-width="1" fill="none"/>
<path d="M126.00,527.60V531.60" stroke="#3e8f74" stroke-width="0.9"/>
<path d="M127.30,527.60V531.60" stroke="#3e8f74" stroke-width="0.9"/>
<path d="M142.30,527.60V531.60" stroke="#3e8f74" stroke-width="0.9"/>
<path d="M151.00,527.60V531.60" stroke="#3e8f74" stroke-width="0.9"/>
<path d="M183.40,527.60V531.60" stroke="#3e8f74" stroke-width="0.9"/>
<path d="M189.60,527.60V531.60" stroke="#3e8f74" stroke-width="0.9"/>
<path d="M193.10,527.60V531.60" stroke="#3e8f74" stroke-width="0.9"/>
<path d="M245.80,527.60V531.60" stroke="#3e8f74" stroke-width="0.9"/>
<path d="M165.00,533.40V537.40" stroke="#7a5a7c" stroke-width="0.9"/>
<path d="M166.20,533.40V537.40" stroke="#7a5a7c" stroke-width="0.9"/>
<path d="M167.30,533.40V537.40" stroke="#7a5a7c" stroke-width="0.9"/>
<path d="M187.30,533.40V537.40" stroke="#7a5a7c" stroke-width="0.9"/>
<path d="M192.70,533.40V537.40" stroke="#7a5a7c" stroke-width="0.9"/>
<path d="M200.70,533.40V537.40" stroke="#7a5a7c" stroke-width="0.9"/>
<path d="M231.20,533.40V537.40" stroke="#7a5a7c" stroke-width="0.9"/>
<path d="M245.00,533.40V537.40" stroke="#7a5a7c" stroke-width="0.9"/>
<text x="37.30" y="609.33" font-size="8.8" fill="#222" textLength="60.70" lengthAdjust="spacingAndGlyphs">Number at risk</text>
<line x1="37.30" y1="617.60" x2="50.70" y2="617.60" stroke="#6e9e94" stroke-width="1"/>
<line x1="37.30" y1="629.20" x2="50.70" y2="629.20" stroke="#5a5a5a" stroke-width="1"/>
<text x="61.50" y="620.63" font-size="9.4" fill="#222" text-anchor="middle">26</text>
<text x="61.50" y="632.23" font-size="9.4" fill="#222" text-anchor="middle">25</text>
<text x="86.95" y="620.63" font-size="9.4" fill="#222" text-anchor="middle">14</text>
<text x="86.95" y="632.23" font-size="9.4" fill="#222" text-anchor="middle">14</text>
<text x="112.40" y="620.63" font-size="9.4" fill="#222" text-anchor="middle">12</text>
<text x="112.40" y="632.23" font-size="9.4" fill="#222" text-anchor="middle">11</text>
<text x="137.85" y="620.63" font-size="9.4" fill="#222" text-anchor="middle">10</text>
<text x="137.85" y="632.23" font-size="9.4" fill="#222" text-anchor="middle">10</text>
<text x="163.30" y="620.63" font-size="9.4" fill="#222" text-anchor="middle">8</text>
<text x="163.30" y="632.23" font-size="9.4" fill="#222" text-anchor="middle">10</text>
<text x="188.75" y="620.63" font-size="9.4" fill="#222" text-anchor="middle">7</text>
<text x="188.75" y="632.23" font-size="9.4" fill="#222" text-anchor="middle">7</text>
<text x="214.20" y="620.63" font-size="9.4" fill="#222" text-anchor="middle">4</text>
<text x="214.20" y="632.23" font-size="9.4" fill="#222" text-anchor="middle">5</text>
<text x="239.65" y="620.63" font-size="9.4" fill="#222" text-anchor="middle">4</text>
<text x="239.65" y="632.23" font-size="9.4" fill="#222" text-anchor="middle">4</text>
<line x1="62.70" y1="640.20" x2="75.40" y2="640.20" stroke="#90c8be" stroke-width="1.1"/>
<text x="78.90" y="643.23" font-size="8.8" fill="#222" textLength="73.10" lengthAdjust="spacingAndGlyphs">PC1 &lt;50% - "cold"</text>
<line x1="162.50" y1="640.20" x2="176.30" y2="640.20" stroke="#b8a0c0" stroke-width="1.1"/>
<text x="180.00" y="643.23" font-size="8.8" fill="#222" textLength="68.80" lengthAdjust="spacingAndGlyphs">PC1 &gt;50% - "hot"</text>
<text x="161.00" y="675.60" font-size="9.0" fill="#222" textLength="60.20" lengthAdjust="spacingAndGlyphs">Quantile Splits</text>
<text x="7.80" y="691.23" font-size="8.8" fill="#222" textLength="63.10" lengthAdjust="spacingAndGlyphs">&lt;25% vs. &gt;25%</text>
<text x="7.80" y="702.03" font-size="8.8" fill="#222" textLength="63.10" lengthAdjust="spacingAndGlyphs">&lt;50% vs. &gt;50%</text>
<text x="7.80" y="712.83" font-size="8.8" fill="#222" textLength="63.10" lengthAdjust="spacingAndGlyphs">&lt;75% vs. &gt;75%</text>
<line x1="176.00" y1="681.00" x2="176.00" y2="716.00" stroke="#c4c4c4" stroke-width="0.9" stroke-dasharray="5 3.5"/>
<line x1="81.90" y1="688.50" x2="197.50" y2="688.50" stroke="#c8c8c8" stroke-width="0.9"/>
<rect x="132.50" y="686.70" width="14.00" height="3.6" fill="#000"/>
<line x1="124.80" y1="699.40" x2="231.50" y2="699.40" stroke="#c8c8c8" stroke-width="0.9"/>
<rect x="171.20" y="697.60" width="15.30" height="3.6" fill="#000"/>
<line x1="142.10" y1="710.20" x2="258.00" y2="710.20" stroke="#c8c8c8" stroke-width="0.9"/>
<rect x="192.30" y="708.40" width="14.40" height="3.6" fill="#000"/>
<line x1="125.40" y1="717.90" x2="260.00" y2="717.90" stroke="#6a6a6a" stroke-width="1.3"/>
<line x1="125.40" y1="717.90" x2="125.40" y2="720.80" stroke="#555" stroke-width="1"/>
<line x1="176.00" y1="717.90" x2="176.00" y2="720.80" stroke="#555" stroke-width="1"/>
<line x1="205.60" y1="717.90" x2="205.60" y2="720.80" stroke="#555" stroke-width="1"/>
<line x1="226.60" y1="717.90" x2="226.60" y2="720.80" stroke="#555" stroke-width="1"/>
<line x1="242.89" y1="717.90" x2="242.89" y2="720.80" stroke="#555" stroke-width="1"/>
<line x1="256.20" y1="717.90" x2="256.20" y2="720.80" stroke="#555" stroke-width="1"/>
<text x="125.40" y="731.36" font-size="9.2" fill="#222" text-anchor="middle" textLength="12.30" lengthAdjust="spacingAndGlyphs">0.5</text>
<text x="176.00" y="731.36" font-size="9.2" fill="#222" text-anchor="middle" textLength="12.30" lengthAdjust="spacingAndGlyphs">1.0</text>
<text x="205.60" y="731.36" font-size="9.2" fill="#222" text-anchor="middle" textLength="12.30" lengthAdjust="spacingAndGlyphs">1.5</text>
<text x="226.60" y="731.36" font-size="9.2" fill="#222" text-anchor="middle" textLength="12.30" lengthAdjust="spacingAndGlyphs">2.0</text>
<text x="242.89" y="731.36" font-size="9.2" fill="#222" text-anchor="middle" textLength="12.30" lengthAdjust="spacingAndGlyphs">2.5</text>
<text x="256.20" y="731.36" font-size="9.2" fill="#222" text-anchor="middle" textLength="12.30" lengthAdjust="spacingAndGlyphs">3.0</text>
<text x="168.20" y="744.92" font-size="10.8" fill="#222" textLength="45.00" lengthAdjust="spacingAndGlyphs">Hazard ratio</text>
<text x="273.00" y="531.87" font-size="13" fill="#000" font-weight="bold" textLength="7.50" lengthAdjust="spacingAndGlyphs">F</text>
<text x="373.00" y="532.24" font-size="10" fill="#222" textLength="68.90" lengthAdjust="spacingAndGlyphs">Stanford (CAR T)</text>
<line x1="312.50" y1="537.30" x2="312.50" y2="633.50" stroke="#1c1c1c" stroke-width="1.35"/>
<line x1="309.30" y1="629.00" x2="312.50" y2="629.00" stroke="#1c1c1c" stroke-width="1.1"/>
<text x="288.20" y="631.89" font-size="8.4" fill="#222" textLength="17.20" lengthAdjust="spacingAndGlyphs">0.00</text>
<line x1="309.30" y1="606.65" x2="312.50" y2="606.65" stroke="#1c1c1c" stroke-width="1.1"/>
<text x="288.20" y="609.54" font-size="8.4" fill="#222" textLength="17.20" lengthAdjust="spacingAndGlyphs">0.25</text>
<line x1="309.30" y1="584.30" x2="312.50" y2="584.30" stroke="#1c1c1c" stroke-width="1.1"/>
<text x="288.20" y="587.19" font-size="8.4" fill="#222" textLength="17.20" lengthAdjust="spacingAndGlyphs">0.50</text>
<line x1="309.30" y1="561.95" x2="312.50" y2="561.95" stroke="#1c1c1c" stroke-width="1.1"/>
<text x="288.20" y="564.84" font-size="8.4" fill="#222" textLength="17.20" lengthAdjust="spacingAndGlyphs">0.75</text>
<line x1="309.30" y1="539.60" x2="312.50" y2="539.60" stroke="#1c1c1c" stroke-width="1.1"/>
<text x="288.20" y="542.49" font-size="8.4" fill="#222" textLength="17.20" lengthAdjust="spacingAndGlyphs">1.00</text>
<line x1="311.90" y1="633.00" x2="502.40" y2="633.00" stroke="#1c1c1c" stroke-width="1.35"/>
<line x1="321.10" y1="633.00" x2="321.10" y2="636.30" stroke="#1c1c1c" stroke-width="1.1"/>
<text x="321.10" y="647.50" font-size="9.0" fill="#222" text-anchor="middle" textLength="4.80" lengthAdjust="spacingAndGlyphs">0</text>
<line x1="378.46" y1="633.00" x2="378.46" y2="636.30" stroke="#1c1c1c" stroke-width="1.1"/>
<text x="378.46" y="647.50" font-size="9.0" fill="#222" text-anchor="middle" textLength="9.40" lengthAdjust="spacingAndGlyphs">12</text>
<line x1="435.82" y1="633.00" x2="435.82" y2="636.30" stroke="#1c1c1c" stroke-width="1.1"/>
<text x="435.82" y="647.50" font-size="9.0" fill="#222" text-anchor="middle" textLength="9.40" lengthAdjust="spacingAndGlyphs">24</text>
<line x1="493.18" y1="633.00" x2="493.18" y2="636.30" stroke="#1c1c1c" stroke-width="1.1"/>
<text x="493.18" y="647.50" font-size="9.0" fill="#222" text-anchor="middle" textLength="9.40" lengthAdjust="spacingAndGlyphs">36</text>
<text x="377.00" y="659.92" font-size="10.8" fill="#222" textLength="60.00" lengthAdjust="spacingAndGlyphs">Time in months</text>
<text transform="translate(281.42 585.00) rotate(-90)" x="0" y="0" font-size="10.8" fill="#222" text-anchor="middle" textLength="66.20" lengthAdjust="spacingAndGlyphs">Probability of EFS</text>
<text x="392.50" y="561.00" font-size="9.0" fill="#222" textLength="28.80" lengthAdjust="spacingAndGlyphs"><tspan font-style="italic">P</tspan> = .40</text>
<path d="M321.2,539.7H334.5V547.9H335.5V555.7H337.4V563.4H351.5V572.1H493.6" stroke="#e2bb68" stroke-width="1.2" fill="none"/>
<path d="M325.3,539.7V546.2H331.2V552.6H333.8V555.5H335.5V577.2H349V584H350.5V590.8H493.6" stroke="#80c8ea" stroke-width="1.2" fill="none"/>
<path d="M325.3,539.7V547.9H330V554.9H335V581H341.1V587.5H350.4V596.3H392.2V604.4H493.6" stroke="#c24068" stroke-width="1.1" fill="none"/>
<path d="M325.3,539.7V563H331.6V569.5H334.8V575H335.8V581.6H336.9V587.5H350.3V593H493.6" stroke="#4d5c86" stroke-width="1.1" fill="none"/>
<path d="M380.40,570.30V573.90" stroke="#c8a050" stroke-width="0.8"/>
<path d="M420.70,570.30V573.90" stroke="#c8a050" stroke-width="0.8"/>
<path d="M444.00,570.30V573.90" stroke="#c8a050" stroke-width="0.8"/>
<path d="M451.30,570.30V573.90" stroke="#c8a050" stroke-width="0.8"/>
<path d="M480.50,570.30V573.90" stroke="#c8a050" stroke-width="0.8"/>
<path d="M493.60,570.30V573.90" stroke="#c8a050" stroke-width="0.8"/>
<path d="M405.90,589.00V592.60" stroke="#5aaad0" stroke-width="0.8"/>
<path d="M435.50,589.00V592.60" stroke="#5aaad0" stroke-width="0.8"/>
<path d="M445.00,589.00V592.60" stroke="#5aaad0" stroke-width="0.8"/>
<path d="M493.60,589.00V592.60" stroke="#5aaad0" stroke-width="0.8"/>
<path d="M382.70,591.20V594.80" stroke="#4d5c86" stroke-width="0.8"/>
<path d="M397.40,591.20V594.80" stroke="#4d5c86" stroke-width="0.8"/>
<path d="M418.50,591.20V594.80" stroke="#4d5c86" stroke-width="0.8"/>
<path d="M440.70,591.20V594.80" stroke="#4d5c86" stroke-width="0.8"/>
<path d="M493.60,591.20V594.80" stroke="#4d5c86" stroke-width="0.8"/>
<path d="M439.00,602.60V606.20" stroke="#c24068" stroke-width="0.8"/>
<path d="M493.60,602.60V606.20" stroke="#c24068" stroke-width="0.8"/>
<text x="289.70" y="671.73" font-size="8.8" fill="#222" textLength="60.00" lengthAdjust="spacingAndGlyphs">Number at risk</text>
<line x1="288.90" y1="680.20" x2="303.60" y2="680.20" stroke="#56688a" stroke-width="1.1"/>
<text x="321.10" y="683.43" font-size="9.4" fill="#222" text-anchor="middle">15</text>
<text x="378.46" y="683.43" font-size="9.4" fill="#222" text-anchor="middle">6</text>
<text x="435.82" y="683.43" font-size="9.4" fill="#222" text-anchor="middle">3</text>
<text x="493.18" y="683.43" font-size="9.4" fill="#222" text-anchor="middle">2</text>
<line x1="288.90" y1="692.00" x2="303.60" y2="692.00" stroke="#c07a96" stroke-width="1.1"/>
<text x="321.10" y="695.23" font-size="9.4" fill="#222" text-anchor="middle">11</text>
<text x="378.46" y="695.23" font-size="9.4" fill="#222" text-anchor="middle">4</text>
<text x="435.82" y="695.23" font-size="9.4" fill="#222" text-anchor="middle">3</text>
<text x="493.18" y="695.23" font-size="9.4" fill="#222" text-anchor="middle">2</text>
<line x1="288.90" y1="703.60" x2="303.60" y2="703.60" stroke="#92ccd6" stroke-width="1.1"/>
<text x="321.10" y="706.83" font-size="9.4" fill="#222" text-anchor="middle">14</text>
<text x="378.46" y="706.83" font-size="9.4" fill="#222" text-anchor="middle">6</text>
<text x="435.82" y="706.83" font-size="9.4" fill="#222" text-anchor="middle">4</text>
<text x="493.18" y="706.83" font-size="9.4" fill="#222" text-anchor="middle">2</text>
<line x1="288.90" y1="715.30" x2="303.60" y2="715.30" stroke="#f0c88e" stroke-width="1.1"/>
<text x="321.10" y="718.53" font-size="9.4" fill="#222" text-anchor="middle">11</text>
<text x="378.46" y="718.53" font-size="9.4" fill="#222" text-anchor="middle">7</text>
<text x="435.82" y="718.53" font-size="9.4" fill="#222" text-anchor="middle">5</text>
<text x="493.18" y="718.53" font-size="9.4" fill="#222" text-anchor="middle">2</text>
<line x1="345.80" y1="731.20" x2="357.40" y2="731.20" stroke="#7a88aa" stroke-width="1"/>
<text x="362.20" y="734.16" font-size="8.6" fill="#222" textLength="37.80" lengthAdjust="spacingAndGlyphs">ABC Cold</text>
<line x1="411.40" y1="731.20" x2="423.70" y2="731.20" stroke="#9ccbe8" stroke-width="1"/>
<text x="428.60" y="734.16" font-size="8.6" fill="#222" textLength="38.20" lengthAdjust="spacingAndGlyphs">GCB Cold</text>
<line x1="345.80" y1="742.70" x2="357.40" y2="742.70" stroke="#d08aa5" stroke-width="1"/>
<text x="362.20" y="745.66" font-size="8.6" fill="#222" textLength="34.10" lengthAdjust="spacingAndGlyphs">ABC Hot</text>
<line x1="411.40" y1="742.70" x2="423.70" y2="742.70" stroke="#efcf9f" stroke-width="1"/>
<text x="428.60" y="745.66" font-size="8.6" fill="#222" textLength="34.40" lengthAdjust="spacingAndGlyphs">GCB Hot</text>
</svg>
</body></html>
